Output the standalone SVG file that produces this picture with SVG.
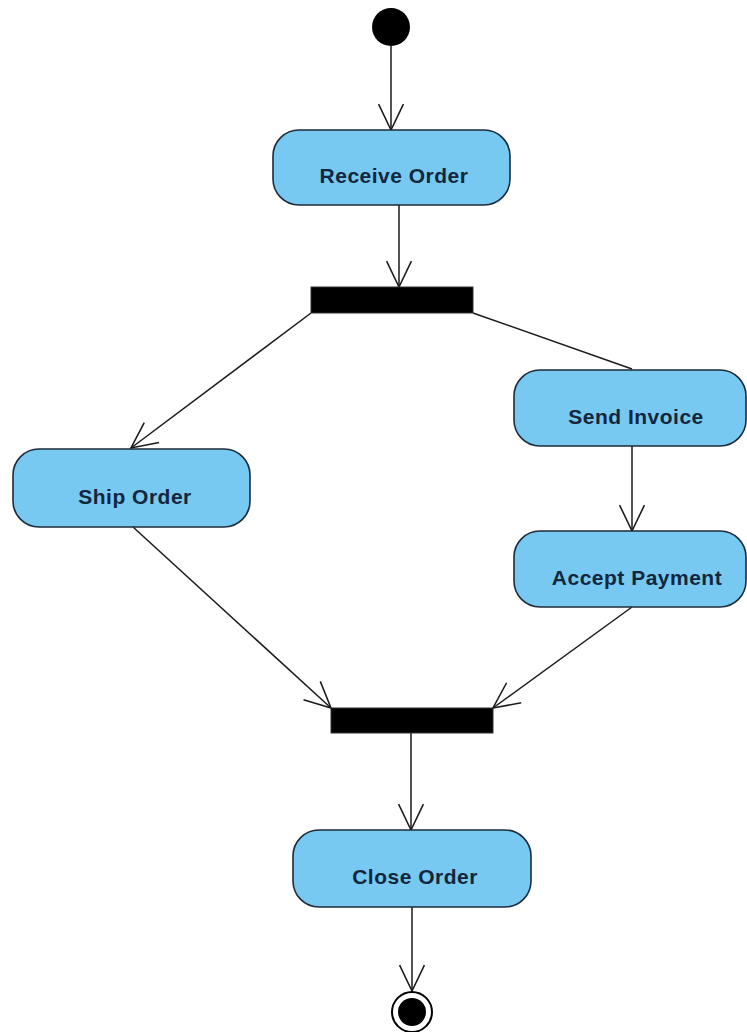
<svg xmlns="http://www.w3.org/2000/svg" width="747" height="1032" viewBox="0 0 747 1032">
  <style>
    .action { fill: #78C9F1; stroke: #1E2B3A; stroke-width: 1.6; }
    .label { font-family: "Liberation Sans", Arial, sans-serif; font-weight: bold; font-size: 21px; letter-spacing: 0.5px; fill: #13263C; text-anchor: middle; }
    .bar { fill: #000; stroke: #333; stroke-width: 1; }
    .flow { fill: none; stroke: #1a1a1a; stroke-width: 1.5; }
  </style>
  <defs>
    <marker id="open-arrow" markerUnits="userSpaceOnUse" markerWidth="30" markerHeight="30" viewBox="-27 -14 29 28" refX="0" refY="0" orient="auto">
      <path d="M -25 -12 L 0 0 L -25 12" fill="none" stroke="#1a1a1a" stroke-width="1.5"/>
    </marker>
  </defs>
  <rect width="747" height="1032" fill="#fff"/>

  <!-- control flows -->
  <g id="connectors">
    <line class="flow" x1="391" y1="46" x2="391" y2="130" marker-end="url(#open-arrow)"/>
    <line class="flow" x1="399" y1="205" x2="399" y2="287" marker-end="url(#open-arrow)"/>
    <line class="flow" x1="311" y1="313" x2="131" y2="448" marker-end="url(#open-arrow)"/>
    <line class="flow" x1="473" y1="313" x2="632" y2="369"/>
    <line class="flow" x1="632" y1="446" x2="632" y2="531" marker-end="url(#open-arrow)"/>
    <line class="flow" x1="133" y1="527" x2="331" y2="708" marker-end="url(#open-arrow)"/>
    <line class="flow" x1="632" y1="607" x2="493" y2="708" marker-end="url(#open-arrow)"/>
    <line class="flow" x1="411" y1="733" x2="411" y2="830" marker-end="url(#open-arrow)"/>
    <line class="flow" x1="412" y1="907" x2="412" y2="991" marker-end="url(#open-arrow)"/>
  </g>

  <!-- initial node -->
  <g id="initial">
    <circle cx="391" cy="27" r="19" fill="#000"/>
  </g>

  <g id="receive-order">
    <rect class="action" x="273" y="130" width="237" height="75" rx="26"/>
    <text class="label" x="394" y="183">Receive Order</text>
  </g>

  <g id="fork">
    <rect class="bar" x="311" y="287" width="162" height="26"/>
  </g>

  <g id="ship-order">
    <rect class="action" x="13" y="449" width="237" height="78" rx="26"/>
    <text class="label" x="135" y="504">Ship Order</text>
  </g>

  <g id="send-invoice">
    <rect class="action" x="514" y="370" width="232" height="76" rx="26"/>
    <text class="label" x="636" y="424">Send Invoice</text>
  </g>

  <g id="accept-payment">
    <rect class="action" x="514" y="531" width="232" height="76" rx="26"/>
    <text class="label" x="637" y="585">Accept Payment</text>
  </g>

  <g id="join">
    <rect class="bar" x="331" y="708" width="162" height="25"/>
  </g>

  <g id="close-order">
    <rect class="action" x="293" y="830" width="238" height="77" rx="26"/>
    <text class="label" x="415" y="884">Close Order</text>
  </g>

  <!-- final node -->
  <g id="final">
    <circle cx="412" cy="1012" r="20" fill="#fff" stroke="#000" stroke-width="2"/>
    <circle cx="412" cy="1012" r="14" fill="#000"/>
  </g>
</svg>
